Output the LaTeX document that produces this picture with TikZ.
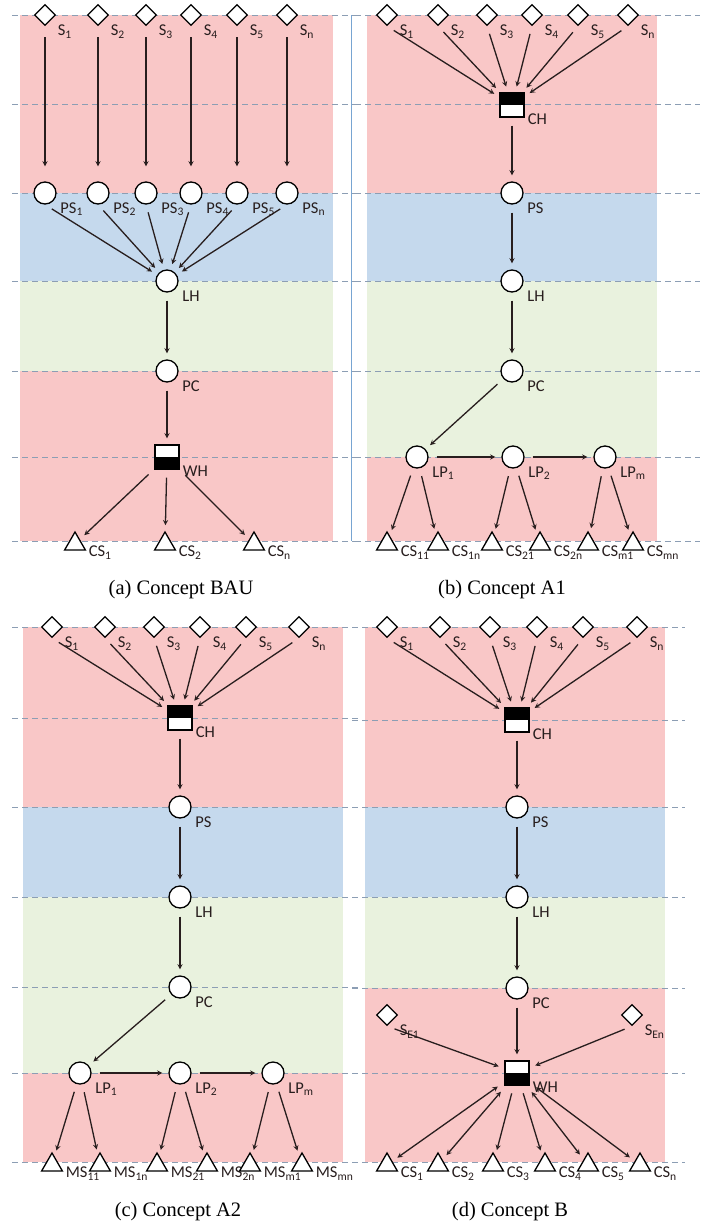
\documentclass[tikz,border=0pt]{standalone}
\usepackage{fontspec}
\setmainfont{Liberation Serif}
\newfontfamily\lblfont{Carlito}
\usetikzlibrary{shapes.geometric}
\definecolor{pinkband}{RGB}{249,199,199}
\definecolor{blueband}{RGB}{197,217,237}
\definecolor{greenband}{RGB}{233,242,222}
\definecolor{gridline}{RGB}{140,158,180}
\definecolor{sepline}{RGB}{120,165,210}
\definecolor{ink}{RGB}{40,30,30}
\tikzset{
  src/.style={diamond, draw, fill=white, line width=1.3pt, inner sep=0pt, minimum size=21pt},
  hub/.style={circle, draw, fill=white, line width=1.3pt, inner sep=0pt, minimum size=22pt},
  shop/.style={regular polygon, regular polygon sides=3, draw, fill=white, line width=1.3pt, inner sep=0pt, minimum size=24pt},
  depot/.style={rectangle, draw, fill=white, line width=1.3pt, inner sep=0pt, minimum size=24pt},
  topfull/.style={depot, path picture={\fill[black] (path picture bounding box.north west) rectangle (path picture bounding box.east);}},
  botfull/.style={depot, path picture={\fill[black] (path picture bounding box.south west) rectangle (path picture bounding box.east);}},
  lbl/.style={font=\lblfont\fontsize{16.5}{16.5}\selectfont, inner sep=0pt, text=ink},
  slbl/.style={lbl, xshift=7pt, yshift=-4pt},
  clbl/.style={lbl, xshift=7pt, yshift=-1pt},
  dlbl/.style={lbl, xshift=3pt, yshift=4pt},
  tlbl/.style={lbl, xshift=7pt, yshift=5pt},
  flow/.style={->, draw=ink, line width=1.3pt, shorten <=8pt, shorten >=6pt},
  tierline/.style={draw=gridline, line width=1pt, dash pattern=on 6pt off 4pt},
  capt/.style={font=\fontsize{20.5}{22}\selectfont}
}
\begin{document}
\begin{tikzpicture}[x=1pt,y=-1pt,>=stealth]
			\useasboundingbox (0,0) rectangle (707,1227);
			
			\fill[pinkband] (20,15) rectangle (333,193);
			\fill[blueband] (20,193) rectangle (333,281);
			\fill[greenband] (20,281) rectangle (333,371);
			\fill[pinkband] (20,371) rectangle (333,541);
			
			\fill[pinkband] (367,15) rectangle (657,193);
			\fill[blueband] (367,193) rectangle (657,281);
			\fill[greenband] (367,281) rectangle (657,457);
			\fill[pinkband] (367,457) rectangle (657,541);
			
			\fill[pinkband] (23,627) rectangle (343,807);
			\fill[blueband] (23,807) rectangle (343,897);
			\fill[greenband] (23,897) rectangle (343,1073);
			\fill[pinkband] (23,1073) rectangle (343,1162);
			
			\fill[pinkband] (365,627) rectangle (665,807);
			\fill[blueband] (365,807) rectangle (665,897);
			\fill[greenband] (365,897) rectangle (665,988);
			\fill[pinkband] (365,988) rectangle (665,1162);
			
			\draw[tierline] (12,15)--(358,15);
			\draw[tierline] (12,104)--(358,104);
			\draw[tierline] (12,193)--(358,193);
			\draw[tierline] (12,281)--(358,281);
			\draw[tierline] (12,371)--(358,371);
			\draw[tierline] (12,457)--(358,457);
			\draw[tierline] (12,541)--(358,541);
			
			\draw[tierline] (355,15)--(700,15);
			\draw[tierline] (355,104)--(700,104);
			\draw[tierline] (355,193)--(700,193);
			\draw[tierline] (355,281)--(700,281);
			\draw[tierline] (355,371)--(700,371);
			\draw[tierline] (355,457)--(700,457);
			\draw[tierline] (355,541)--(700,541);
			
			\draw[tierline] (12,627)--(358,627);
			\draw[tierline] (12,718)--(358,718);
			\draw[tierline] (12,807)--(358,807);
			\draw[tierline] (12,897)--(358,897);
			\draw[tierline] (12,987)--(358,987);
			\draw[tierline] (12,1073)--(358,1073);
			\draw[tierline] (12,1162)--(358,1162);
			
			\draw[tierline] (352,627)--(685,627);
			\draw[tierline] (352,720)--(685,720);
			\draw[tierline] (352,807)--(685,807);
			\draw[tierline] (352,897)--(685,897);
			\draw[tierline] (352,988)--(685,988);
			\draw[tierline] (352,1073)--(685,1073);
			\draw[tierline] (352,1162)--(685,1162);
			
			\draw[sepline,line width=1pt] (351,15)--(351,541);
			
			\node[src,label={[slbl]below right:S\textsubscript{1}}] (aS1) at (45,15) {};
			\node[src,label={[slbl]below right:S\textsubscript{2}}] (aS2) at (98,15) {};
			\node[src,label={[slbl]below right:S\textsubscript{3}}] (aS3) at (146,15) {};
			\node[src,label={[slbl]below right:S\textsubscript{4}}] (aS4) at (191,15) {};
			\node[src,label={[slbl]below right:S\textsubscript{5}}] (aS5) at (237,15) {};
			\node[src,label={[slbl]below right:S\textsubscript{n}}] (aS6) at (287,15) {};
			\node[hub,label={[clbl]below right:PS\textsubscript{1}}] (aPS1) at (45,193) {};
			\node[hub,label={[clbl]below right:PS\textsubscript{2}}] (aPS2) at (98,193) {};
			\node[hub,label={[clbl]below right:PS\textsubscript{3}}] (aPS3) at (146,193) {};
			\node[hub,label={[clbl]below right:PS\textsubscript{4}}] (aPS4) at (191,193) {};
			\node[hub,label={[clbl]below right:PS\textsubscript{5}}] (aPS5) at (237,193) {};
			\node[hub,label={[clbl]below right:PS\textsubscript{n}}] (aPS6) at (287,193) {};
			\node[hub,label={[clbl]below right:LH}] (aLH) at (167,281) {};
			\node[hub,label={[clbl]below right:PC}] (aPC) at (167,371) {};
			\node[botfull,label={[dlbl]below right:WH}] (aWH) at (167,457) {};
			\node[shop,label={[tlbl]below right:CS\textsubscript{1}}] (aCS1) at (75,544) {};
			\node[shop,label={[tlbl]below right:CS\textsubscript{2}}] (aCS2) at (165,544) {};
			\node[shop,label={[tlbl]below right:CS\textsubscript{n}}] (aCS3) at (254,544) {};
			\draw[flow,shorten <=11pt,shorten >=15pt] (aS1)--(aPS1);
			\draw[flow,shorten <=11pt,shorten >=15pt] (aS2)--(aPS2);
			\draw[flow,shorten <=11pt,shorten >=15pt] (aS3)--(aPS3);
			\draw[flow,shorten <=11pt,shorten >=15pt] (aS4)--(aPS4);
			\draw[flow,shorten <=11pt,shorten >=15pt] (aS5)--(aPS5);
			\draw[flow,shorten <=11pt,shorten >=15pt] (aS6)--(aPS6);
			\draw[flow] (aPS1.south)--(aLH);
			\draw[flow] (aPS2.south)--(aLH);
			\draw[flow] (aPS3.south)--(aLH);
			\draw[flow] (aPS4.south)--(aLH);
			\draw[flow] (aPS5.south)--(aLH);
			\draw[flow] (aPS6.south)--(aLH);
			\draw[flow] (aLH)--(aPC);
			\draw[flow] (aPC)--(aWH);
			\draw[flow] (aWH)--(aCS1);
			\draw[flow] (aWH)--(aCS2);
			\draw[flow] (aWH)--(aCS3);
			\node[capt] (capA) at (181,590) {(a) Concept BAU};
			
			\node[src,label={[slbl]below right:S\textsubscript{1}}] (bS1) at (387,15) {};
			\node[src,label={[slbl]below right:S\textsubscript{2}}] (bS2) at (438,15) {};
			\node[src,label={[slbl]below right:S\textsubscript{3}}] (bS3) at (487,15) {};
			\node[src,label={[slbl]below right:S\textsubscript{4}}] (bS4) at (532,15) {};
			\node[src,label={[slbl]below right:S\textsubscript{5}}] (bS5) at (578,15) {};
			\node[src,label={[slbl]below right:S\textsubscript{n}}] (bS6) at (628,15) {};
			\node[topfull,label={[dlbl]below right:CH}] (bCH) at (512,105) {};
			\node[hub,label={[clbl]below right:PS}] (bPS) at (512,193) {};
			\node[hub,label={[clbl]below right:LH}] (bLH) at (512,281) {};
			\node[hub,label={[clbl]below right:PC}] (bPC) at (512,371) {};
			\node[hub,label={[clbl]below right:LP\textsubscript{1}}] (bLP1) at (417,457) {};
			\node[hub,label={[clbl]below right:LP\textsubscript{2}}] (bLP2) at (513,457) {};
			\node[hub,label={[clbl]below right:LP\textsubscript{m}}] (bLPm) at (605,457) {};
			\node[shop,label={[tlbl]below right:CS\textsubscript{11}}] (bCS1) at (387,544) {};
			\node[shop,label={[tlbl]below right:CS\textsubscript{1n}}] (bCS2) at (438,544) {};
			\node[shop,label={[tlbl]below right:CS\textsubscript{21}}] (bCS3) at (492,544) {};
			\node[shop,label={[tlbl]below right:CS\textsubscript{2n}}] (bCS4) at (540,544) {};
			\node[shop,label={[tlbl]below right:CS\textsubscript{m1}}] (bCS5) at (588,544) {};
			\node[shop,label={[tlbl]below right:CS\textsubscript{mn}}] (bCS6) at (633,544) {};
			\draw[flow] (bS1.south)--(bCH);
			\draw[flow] (bS2.south)--(bCH);
			\draw[flow] (bS3.south)--(bCH);
			\draw[flow] (bS4.south)--(bCH);
			\draw[flow] (bS5.south)--(bCH);
			\draw[flow] (bS6.south)--(bCH);
			\draw[flow] (bCH)--(bPS);
			\draw[flow] (bPS)--(bLH);
			\draw[flow] (bLH)--(bPC);
			\draw[flow] (bPC)--(bLP1);
			\draw[flow] (bLP1)--(bLP2);
			\draw[flow] (bLP2)--(bLPm);
			\draw[flow] (bLP1)--(bCS1);
			\draw[flow] (bLP1)--(bCS2);
			\draw[flow] (bLP2)--(bCS3);
			\draw[flow] (bLP2)--(bCS4);
			\draw[flow] (bLPm)--(bCS5);
			\draw[flow] (bLPm)--(bCS6);
			\node[capt] (capB) at (502,590) {(b) Concept A1};
			
			\node[src,label={[slbl]below right:S\textsubscript{1}}] (cS1) at (52,627) {};
			\node[src,label={[slbl]below right:S\textsubscript{2}}] (cS2) at (105,627) {};
			\node[src,label={[slbl]below right:S\textsubscript{3}}] (cS3) at (154,627) {};
			\node[src,label={[slbl]below right:S\textsubscript{4}}] (cS4) at (200,627) {};
			\node[src,label={[slbl]below right:S\textsubscript{5}}] (cS5) at (246,627) {};
			\node[src,label={[slbl]below right:S\textsubscript{n}}] (cS6) at (299,627) {};
			\node[topfull,label={[dlbl]below right:CH}] (cCH) at (180,718) {};
			\node[hub,label={[clbl]below right:PS}] (cPS) at (180,807) {};
			\node[hub,label={[clbl]below right:LH}] (cLH) at (180,897) {};
			\node[hub,label={[clbl]below right:PC}] (cPC) at (180,987) {};
			\node[hub,label={[clbl]below right:LP\textsubscript{1}}] (cLP1) at (80,1073) {};
			\node[hub,label={[clbl]below right:LP\textsubscript{2}}] (cLP2) at (180,1073) {};
			\node[hub,label={[clbl]below right:LP\textsubscript{m}}] (cLPm) at (273,1073) {};
			\node[shop,label={[tlbl]below right:MS\textsubscript{11}}] (cMS1) at (52,1165) {};
			\node[shop,label={[tlbl]below right:MS\textsubscript{1n}}] (cMS2) at (100,1165) {};
			\node[shop,label={[tlbl]below right:MS\textsubscript{21}}] (cMS3) at (157,1165) {};
			\node[shop,label={[tlbl]below right:MS\textsubscript{2n}}] (cMS4) at (207,1165) {};
			\node[shop,label={[tlbl]below right:MS\textsubscript{m1}}] (cMS5) at (250,1165) {};
			\node[shop,label={[tlbl]below right:MS\textsubscript{mn}}] (cMS6) at (302,1165) {};
			\draw[flow] (cS1.south)--(cCH);
			\draw[flow] (cS2.south)--(cCH);
			\draw[flow] (cS3.south)--(cCH);
			\draw[flow] (cS4.south)--(cCH);
			\draw[flow] (cS5.south)--(cCH);
			\draw[flow] (cS6.south)--(cCH);
			\draw[flow] (cCH)--(cPS);
			\draw[flow] (cPS)--(cLH);
			\draw[flow] (cLH)--(cPC);
			\draw[flow] (cPC)--(cLP1);
			\draw[flow] (cLP1)--(cLP2);
			\draw[flow] (cLP2)--(cLPm);
			\draw[flow] (cLP1)--(cMS1);
			\draw[flow] (cLP1)--(cMS2);
			\draw[flow] (cLP2)--(cMS3);
			\draw[flow] (cLP2)--(cMS4);
			\draw[flow] (cLPm)--(cMS5);
			\draw[flow] (cLPm)--(cMS6);
			\node[capt] (capC) at (178,1212) {(c) Concept A2};
			
			\node[src,label={[slbl]below right:S\textsubscript{1}}] (dS1) at (387,627) {};
			\node[src,label={[slbl]below right:S\textsubscript{2}}] (dS2) at (440,627) {};
			\node[src,label={[slbl]below right:S\textsubscript{3}}] (dS3) at (490,627) {};
			\node[src,label={[slbl]below right:S\textsubscript{4}}] (dS4) at (537,627) {};
			\node[src,label={[slbl]below right:S\textsubscript{5}}] (dS5) at (583,627) {};
			\node[src,label={[slbl]below right:S\textsubscript{n}}] (dS6) at (637,627) {};
			\node[topfull,label={[dlbl]below right:CH}] (dCH) at (517,720) {};
			\node[hub,label={[clbl]below right:PS}] (dPS) at (517,807) {};
			\node[hub,label={[clbl]below right:LH}] (dLH) at (517,897) {};
			\node[hub,label={[clbl]below right:PC}] (dPC) at (517,988) {};
			\node[src,label={[slbl]below right:S\textsubscript{E1}}] (dSE1) at (387,1015) {};
			\node[src,label={[slbl]below right:S\textsubscript{En}}] (dSEn) at (632,1015) {};
			\node[botfull,label={[dlbl]below right:WH}] (dWH) at (517,1073) {};
			\node[shop,label={[tlbl]below right:CS\textsubscript{1}}] (dCS1) at (387,1165) {};
			\node[shop,label={[tlbl]below right:CS\textsubscript{2}}] (dCS2) at (438,1165) {};
			\node[shop,label={[tlbl]below right:CS\textsubscript{3}}] (dCS3) at (493,1165) {};
			\node[shop,label={[tlbl]below right:CS\textsubscript{4}}] (dCS4) at (545,1165) {};
			\node[shop,label={[tlbl]below right:CS\textsubscript{5}}] (dCS5) at (588,1165) {};
			\node[shop,label={[tlbl]below right:CS\textsubscript{n}}] (dCS6) at (640,1165) {};
			\draw[flow] (dS1.south)--(dCH);
			\draw[flow] (dS2.south)--(dCH);
			\draw[flow] (dS3.south)--(dCH);
			\draw[flow] (dS4.south)--(dCH);
			\draw[flow] (dS5.south)--(dCH);
			\draw[flow] (dS6.south)--(dCH);
			\draw[flow] (dCH)--(dPS);
			\draw[flow] (dPS)--(dLH);
			\draw[flow] (dLH)--(dPC);
			\draw[flow] (dPC)--(dWH);
			\draw[flow] (dSE1.south)--(dWH);
			\draw[flow] (dSEn.south)--(dWH);
			\draw[flow,<->] (dWH)--(dCS1);
			\draw[flow,<->] (dWH)--(dCS2);
			\draw[flow] (dWH)--(dCS3);
			\draw[flow] (dWH)--(dCS4);
			\draw[flow,<->] (dWH)--(dCS5);
			\draw[flow,<->] (dWH)--(dCS6);
			\node[capt] (capD) at (510,1212) {(d) Concept B};
		\end{tikzpicture}
\end{document}
